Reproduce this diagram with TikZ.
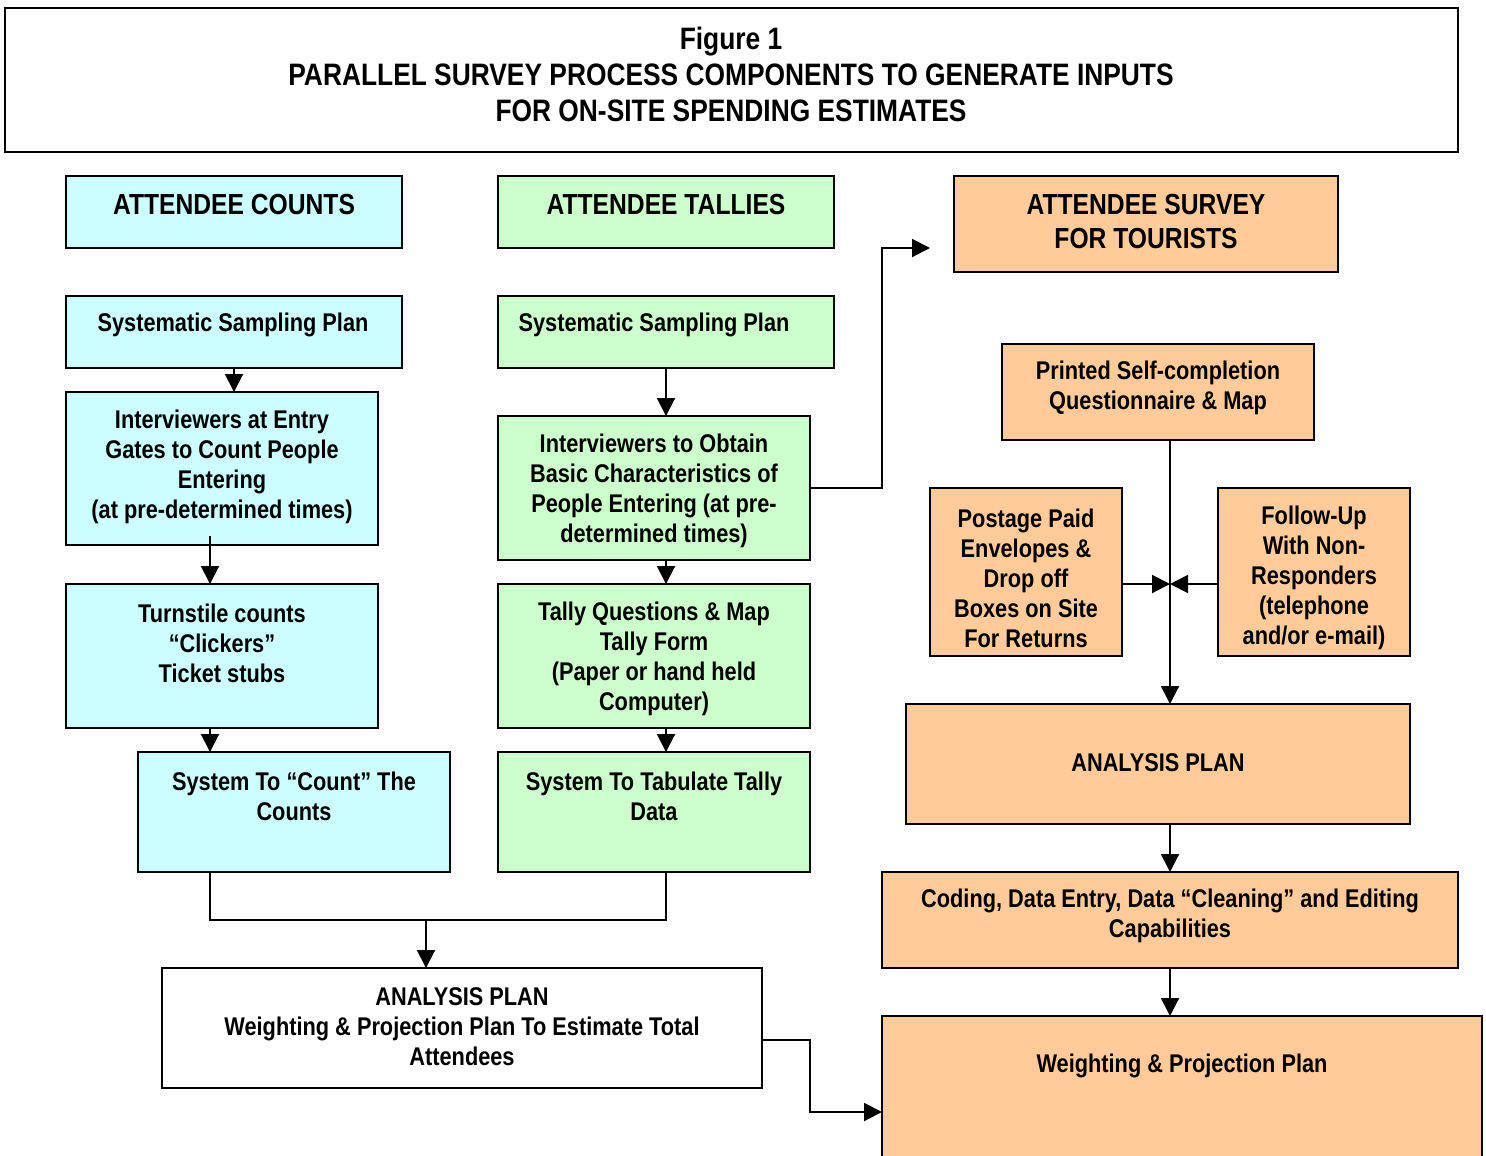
\documentclass[tikz,border=0pt]{standalone}
\usepackage{fontspec}
\setmainfont{Liberation Sans}[FakeStretch=0.85]
\usetikzlibrary{arrows.meta,calc}
\definecolor{cy}{HTML}{CCFFFF}
\definecolor{gr}{HTML}{CCFFCC}
\definecolor{orn}{HTML}{FFCC99}
\newcommand\bx[6]{\node[box,#2,minimum width={(#5-#3)*0.5pt},minimum height={(#6-#4)*0.5pt},anchor=north west] (#1) at (#3,#4) {};}
\begin{document}
\begin{tikzpicture}[x=0.5pt,y=-0.5pt,
  box/.style={draw,line width=1pt,inner sep=0pt,outer sep=0pt},
  txt/.style={align=center,font=\fontsize{12.8}{15}\selectfont\bfseries,inner sep=0pt,yshift=-1pt},
  hdr/.style={align=center,font=\fontsize{14.5}{17}\selectfont\bfseries,inner sep=0pt,yshift=-0.5pt},
  ttl/.style={align=center,font=\fontsize{15.5}{18}\selectfont\bfseries,inner sep=0pt},
  arr/.style={line width=1pt,-{Triangle[length=9pt,width=9pt]}},
  ln/.style={line width=1pt}]
\useasboundingbox (0,0) rectangle (1486,1155);
\clip (0,0) rectangle (1486,1155);
% boxes
\bx{title}{fill=white}{5}{8}{1458}{152}
\bx{hc}{fill=cy}{66}{176}{402}{248}
\bx{sp1}{fill=cy}{66}{296}{402}{368}
\bx{ig}{fill=cy}{66}{392}{378}{545}
\bx{tc}{fill=cy}{66}{584}{378}{728}
\bx{stc}{fill=cy}{138}{752}{450}{872}
\bx{ht}{fill=gr}{498}{176}{834}{248}
\bx{sp2}{fill=gr}{498}{296}{834}{368}
\bx{io}{fill=gr}{498}{416}{810}{560}
\bx{tq}{fill=gr}{498}{584}{810}{728}
\bx{stt}{fill=gr}{498}{752}{810}{872}
\bx{al}{fill=white}{162}{968}{762}{1088}
\bx{hs}{fill=orn}{954}{176}{1338}{272}
\bx{pr}{fill=orn}{1002}{344}{1314}{440}
\bx{pp}{fill=orn}{930}{488}{1122}{656}
\bx{fu}{fill=orn}{1218}{488}{1410}{656}
\bx{ar}{fill=orn}{906}{704}{1410}{824}
\bx{cd}{fill=orn}{882}{872}{1458}{968}
\bx{wp}{fill=orn}{882}{1016}{1482}{1180}
% texts
\node[ttl] (tt) at (731,74) {Figure 1\\PARALLEL SURVEY PROCESS COMPONENTS TO GENERATE INPUTS\\FOR ON-SITE SPENDING ESTIMATES};
\node[hdr] (thc) at (234,204) {ATTENDEE COUNTS};
\node[hdr] (tht) at (666,204) {ATTENDEE TALLIES};
\node[hdr] (ths) at (1146,221) {ATTENDEE SURVEY\\FOR TOURISTS};
\node[txt] (tsp1) at (233,323) {Systematic Sampling Plan};
\node[txt] (tsp2) at (654,323) {Systematic Sampling Plan};
\node[txt] (tig) at (222,465) {Interviewers at Entry\\Gates to Count People\\Entering\\(at pre-determined times)};
\node[txt] (ttc) at (222,641) {Turnstile counts\\“Clickers”\\Ticket stubs};
\node[txt] (tstc) at (294,794) {System To “Count” The\\Counts};
\node[txt] (tio) at (654,489) {Interviewers to Obtain\\Basic Characteristics of\\People Entering (at pre-\\determined times)};
\node[txt] (ttq) at (654,657) {Tally Questions \& Map\\Tally Form\\(Paper or hand held\\Computer)};
\node[txt] (tstt) at (654,794) {System To Tabulate Tally\\Data};
\node[txt] (tal) at (462,1025) {ANALYSIS PLAN\\Weighting \& Projection Plan To Estimate Total\\Attendees};
\node[txt] (tpr) at (1158,386) {Printed Self-completion\\Questionnaire \& Map};
\node[txt] (tpp) at (1026,576) {Postage Paid\\Envelopes \&\\Drop off\\Boxes on Site\\For Returns};
\node[txt] (tfu) at (1314,576) {Follow-Up\\With Non-\\Responders\\(telephone\\and/or e-mail)};
\node[txt] (tar) at (1158,761) {ANALYSIS PLAN};
\node[txt] (tcd) at (1170,914) {Coding, Data Entry, Data “Cleaning” and Editing\\Capabilities};
\node[txt] (twp) at (1182,1064) {Weighting \& Projection Plan};
% helper coordinates
\coordinate (xl) at (210,0);
\coordinate (xm) at (666,0);
\coordinate (xr) at (1170,0);
\coordinate (ym) at (0,584);
\coordinate (jn) at (426,920);
\coordinate (c1) at (930,248);
\coordinate (ya) at (0,1040);
\coordinate (yw) at (0,1112);
% connectors left
\draw[arr] (sp1.south) -- (sp1.south |- ig.north);
\draw[arr] ($(ig.south -| xl)+(0,-9)$) -- (tc.north -| xl);
\draw[arr] (tc.south -| xl) -- (stc.north -| xl);
\draw[ln] (stc.south -| xl) -- (xl |- jn) -- (xm |- jn) -- (stt.south -| xm);
\draw[arr] (jn) -- (al.north -| jn);
% middle
\draw[arr] (sp2.south -| xm) -- (io.north -| xm);
\draw[arr] (io.south -| xm) -- (tq.north -| xm);
\draw[arr] (tq.south -| xm) -- (stt.north -| xm);
\draw[arr] (io.east) -| ($(c1)+(-48,0)$) -- (c1);
% right
\draw[arr] (pr.south -| xr) -- (ar.north -| xr);
\draw[arr] (pp.east |- ym) -- (xr |- ym);
\draw[arr] (fu.west |- ym) -- (xr |- ym);
\draw[arr] (ar.south -| xr) -- (cd.north -| xr);
\draw[arr] (cd.south -| xr) -- (wp.north -| xr);
\draw[arr] (al.east |- ya) -- (810,1040) |- (wp.west |- yw);
\end{tikzpicture}
\end{document}
